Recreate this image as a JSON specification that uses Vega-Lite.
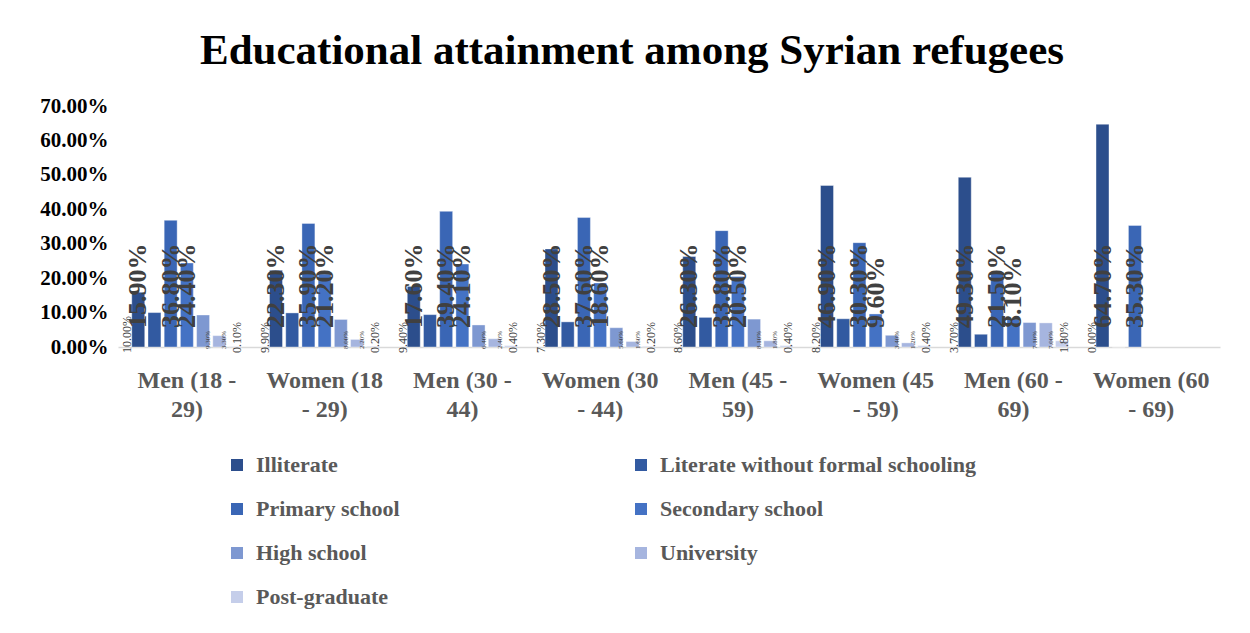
{
  "$schema": "https://vega.github.io/schema/vega-lite/v6.json",
  "width": 1102,
  "height": 241,
  "autosize": "none",
  "padding": {"left": 118, "top": 106, "right": 30, "bottom": 286},
  "background": "white",
  "title": {
    "text": "Educational attainment among Syrian refugees",
    "font": "Liberation Serif",
    "fontSize": 43,
    "fontWeight": "bold",
    "color": "#000000",
    "anchor": "middle",
    "frame": "group",
    "dx": -37,
    "offset": 22
  },
  "config": {
    "view": {"stroke": null},
    "axisY": {
      "title": null,
      "format": ".2%",
      "values": [0, 0.1, 0.2, 0.3, 0.4, 0.5, 0.6, 0.7],
      "labelOverlap": false,
      "grid": false,
      "domain": false,
      "ticks": false,
      "labelFont": "Liberation Serif",
      "labelFontSize": 21,
      "labelFontWeight": "bold",
      "labelColor": "#000000",
      "labelPadding": 10
    }
  },
  "data": {
    "values": [
      {"group": "Men (18 - 29)", "level": "Illiterate", "value": 0.159},
      {"group": "Men (18 - 29)", "level": "Literate without formal schooling", "value": 0.10},
      {"group": "Men (18 - 29)", "level": "Primary school", "value": 0.368},
      {"group": "Men (18 - 29)", "level": "Secondary school", "value": 0.244},
      {"group": "Men (18 - 29)", "level": "High school", "value": 0.093},
      {"group": "Men (18 - 29)", "level": "University", "value": 0.033},
      {"group": "Men (18 - 29)", "level": "Post-graduate", "value": 0.001},
      {"group": "Women (18 - 29)", "level": "Illiterate", "value": 0.223},
      {"group": "Women (18 - 29)", "level": "Literate without formal schooling", "value": 0.099},
      {"group": "Women (18 - 29)", "level": "Primary school", "value": 0.359},
      {"group": "Women (18 - 29)", "level": "Secondary school", "value": 0.212},
      {"group": "Women (18 - 29)", "level": "High school", "value": 0.08},
      {"group": "Women (18 - 29)", "level": "University", "value": 0.022},
      {"group": "Women (18 - 29)", "level": "Post-graduate", "value": 0.002},
      {"group": "Men (30 - 44)", "level": "Illiterate", "value": 0.176},
      {"group": "Men (30 - 44)", "level": "Literate without formal schooling", "value": 0.094},
      {"group": "Men (30 - 44)", "level": "Primary school", "value": 0.394},
      {"group": "Men (30 - 44)", "level": "Secondary school", "value": 0.241},
      {"group": "Men (30 - 44)", "level": "High school", "value": 0.064},
      {"group": "Men (30 - 44)", "level": "University", "value": 0.024},
      {"group": "Men (30 - 44)", "level": "Post-graduate", "value": 0.004},
      {"group": "Women (30 - 44)", "level": "Illiterate", "value": 0.285},
      {"group": "Women (30 - 44)", "level": "Literate without formal schooling", "value": 0.073},
      {"group": "Women (30 - 44)", "level": "Primary school", "value": 0.376},
      {"group": "Women (30 - 44)", "level": "Secondary school", "value": 0.186},
      {"group": "Women (30 - 44)", "level": "High school", "value": 0.056},
      {"group": "Women (30 - 44)", "level": "University", "value": 0.016},
      {"group": "Women (30 - 44)", "level": "Post-graduate", "value": 0.002},
      {"group": "Men (45 - 59)", "level": "Illiterate", "value": 0.263},
      {"group": "Men (45 - 59)", "level": "Literate without formal schooling", "value": 0.086},
      {"group": "Men (45 - 59)", "level": "Primary school", "value": 0.338},
      {"group": "Men (45 - 59)", "level": "Secondary school", "value": 0.205},
      {"group": "Men (45 - 59)", "level": "High school", "value": 0.081},
      {"group": "Men (45 - 59)", "level": "University", "value": 0.018},
      {"group": "Men (45 - 59)", "level": "Post-graduate", "value": 0.004},
      {"group": "Women (45 - 59)", "level": "Illiterate", "value": 0.469},
      {"group": "Women (45 - 59)", "level": "Literate without formal schooling", "value": 0.082},
      {"group": "Women (45 - 59)", "level": "Primary school", "value": 0.303},
      {"group": "Women (45 - 59)", "level": "Secondary school", "value": 0.096},
      {"group": "Women (45 - 59)", "level": "High school", "value": 0.034},
      {"group": "Women (45 - 59)", "level": "University", "value": 0.012},
      {"group": "Women (45 - 59)", "level": "Post-graduate", "value": 0.004},
      {"group": "Men (60 - 69)", "level": "Illiterate", "value": 0.493},
      {"group": "Men (60 - 69)", "level": "Literate without formal schooling", "value": 0.037},
      {"group": "Men (60 - 69)", "level": "Primary school", "value": 0.215},
      {"group": "Men (60 - 69)", "level": "Secondary school", "value": 0.081},
      {"group": "Men (60 - 69)", "level": "High school", "value": 0.071},
      {"group": "Men (60 - 69)", "level": "University", "value": 0.07},
      {"group": "Men (60 - 69)", "level": "Post-graduate", "value": 0.018},
      {"group": "Women (60 - 69)", "level": "Illiterate", "value": 0.647},
      {"group": "Women (60 - 69)", "level": "Literate without formal schooling", "value": 0.0},
      {"group": "Women (60 - 69)", "level": "Primary school", "value": 0.353}
    ]
  },
  "encoding": {
    "x": {
      "field": "group",
      "type": "nominal",
      "sort": null,
      "scale": {"paddingInner": 0.2, "paddingOuter": 0.1},
      "axis": {
        "title": null,
        "labelAngle": 0,
        "labelExpr": "[substring(datum.label, 0, 9), substring(datum.label, 10)]",
        "labelFont": "Liberation Serif",
        "labelFontSize": 24,
        "labelFontWeight": "bold",
        "labelColor": "#595959",
        "labelLineHeight": 29,
        "labelPadding": 21,
        "labelLimit": 300,
        "labelOverlap": false,
        "ticks": false,
        "domainColor": "#d9d9d9",
        "domainWidth": 1.5
      }
    },
    "xOffset": {
      "field": "level",
      "type": "nominal",
      "scale": {
        "domain": ["Illiterate", "Literate without formal schooling", "Primary school", "Secondary school", "High school", "University", "Post-graduate"],
        "paddingInner": 0.2,
        "paddingOuter": 0
      }
    }
  },
  "layer": [
    {
      "mark": {"type": "bar", "stroke": "#ffffff", "strokeWidth": 0.75, "strokeOpacity": 0.5},
      "encoding": {
        "y": {
          "field": "value",
          "type": "quantitative",
          "scale": {"domain": [0, 0.7], "nice": false},
          "axis": {"format": ".2%", "values": [0, 0.1, 0.2, 0.3, 0.4, 0.5, 0.6, 0.7], "labelOverlap": false}
        },
        "color": {
          "field": "level",
          "type": "nominal",
          "scale": {
            "domain": ["Illiterate", "Literate without formal schooling", "Primary school", "Secondary school", "High school", "University", "Post-graduate"],
            "range": ["#2c4e8c", "#325aa1", "#3a66b5", "#4472c4", "#7e98d1", "#a6b5df", "#c5ceea"]
          },
          "legend": {
            "title": null,
            "values": ["Illiterate", "Primary school", "High school", "Post-graduate", "Literate without formal schooling", "Secondary school", "University"],
            "orient": "none",
            "legendX": 108,
            "legendY": 348,
            "columns": 2,
            "gridAlign": "all",
            "columnPadding": 58,
            "rowPadding": 22,
            "symbolType": "square",
            "symbolSize": 144,
            "symbolStrokeWidth": 0,
            "labelFont": "Liberation Serif",
            "labelFontSize": 22,
            "labelFontWeight": "bold",
            "labelColor": "#595959",
            "labelLimit": 500,
            "labelOffset": 8
          }
        }
      }
    },
    {
      "transform": [{"filter": "(datum.level == 'Illiterate' || datum.level == 'Primary school' || datum.level == 'Secondary school') && datum.value > 0"}],
      "mark": {"type": "text", "angle": 270, "align": "left", "baseline": "middle", "dx": 19, "font": "Liberation Serif", "fontSize": 26, "fontWeight": "bold", "color": "#404040"},
      "encoding": {
        "y": {"datum": 0, "type": "quantitative", "axis": {"format": ".2%", "values": [0, 0.1, 0.2, 0.3, 0.4, 0.5, 0.6, 0.7], "labelOverlap": false}},
        "text": {"field": "value", "type": "quantitative", "format": ".2%"}
      }
    },
    {
      "transform": [{"filter": "datum.level == 'Literate without formal schooling'"}],
      "mark": {"type": "text", "angle": 270, "align": "left", "baseline": "middle", "dx": -6, "dy": -27, "font": "Liberation Serif", "fontSize": 12, "color": "#404040"},
      "encoding": {
        "y": {"datum": 0, "type": "quantitative", "axis": {"format": ".2%", "values": [0, 0.1, 0.2, 0.3, 0.4, 0.5, 0.6, 0.7], "labelOverlap": false}},
        "text": {"field": "value", "type": "quantitative", "format": ".2%"}
      }
    },
    {
      "transform": [{"filter": "datum.level == 'Post-graduate'"}],
      "mark": {"type": "text", "angle": 270, "align": "left", "baseline": "middle", "dx": -6, "dy": 2, "font": "Liberation Serif", "fontSize": 12, "color": "#404040"},
      "encoding": {
        "y": {"datum": 0, "type": "quantitative", "axis": {"format": ".2%", "values": [0, 0.1, 0.2, 0.3, 0.4, 0.5, 0.6, 0.7], "labelOverlap": false}},
        "text": {"field": "value", "type": "quantitative", "format": ".2%"}
      }
    },
    {
      "transform": [{"filter": "datum.level == 'High school' || datum.level == 'University'"}],
      "mark": {"type": "text", "angle": 270, "align": "left", "baseline": "middle", "dx": -2, "dy": 5, "font": "Liberation Serif", "fontSize": 7, "color": "#404040"},
      "encoding": {
        "y": {"datum": 0, "type": "quantitative", "axis": {"format": ".2%", "values": [0, 0.1, 0.2, 0.3, 0.4, 0.5, 0.6, 0.7], "labelOverlap": false}},
        "text": {"field": "value", "type": "quantitative", "format": ".2%"}
      }
    }
  ]
}
